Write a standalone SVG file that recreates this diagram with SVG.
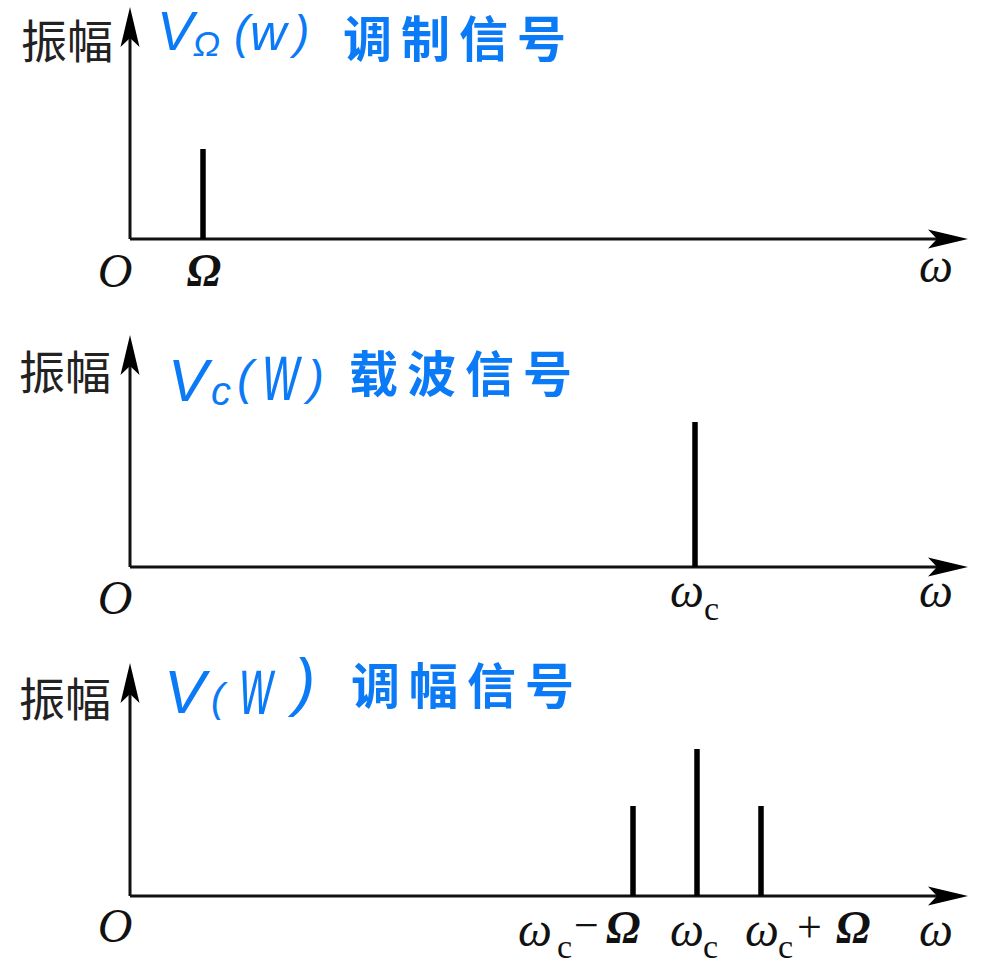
<svg xmlns="http://www.w3.org/2000/svg" width="987" height="967" viewBox="0 0 987 967">
<style>
.ax{stroke:#111;stroke-width:3;fill:none}
.sp{stroke:#000;stroke-width:5.5;fill:none}
.zf{font-family:"Noto Sans CJK SC","Noto Sans CJK JP",sans-serif;font-size:46px;fill:#222}
.bl{font-family:"Noto Sans CJK SC","Noto Sans CJK JP",sans-serif;font-weight:bold;font-size:49px;fill:#0b7af6;letter-spacing:9px}
.bv{font-family:"Liberation Sans",Arial,sans-serif;font-style:italic;fill:#0b7af6}
.gr{font-family:"Liberation Serif","Times New Roman",serif;font-style:italic;font-size:48px;fill:#111}
.om{font-family:"Liberation Serif","Times New Roman",serif;font-style:italic;font-weight:bold;font-size:46px;fill:#111}
.sb{font-family:"Liberation Serif","Times New Roman",serif;font-size:34px;fill:#111}
.op{font-family:"Liberation Serif","Times New Roman",serif;font-size:44px;fill:#111}
</style>
<defs>
<path id="ah" d="M0,0 L-40,-9.5 L-31,0 L-40,9.5 Z" fill="#000"/>
</defs>

<g id="connectors">
<path class="ax" d="M130,239 L130,20 M130,239 L950,239"/>
<use href="#ah" transform="translate(130,7) rotate(-90)"/>
<use href="#ah" transform="translate(968,239)"/>
<path class="ax" d="M130,567 L130,348 M130,567 L950,567"/>
<use href="#ah" transform="translate(130,335) rotate(-90)"/>
<use href="#ah" transform="translate(968,567)"/>
<path class="ax" d="M130,896 L130,676 M130,896 L950,896"/>
<use href="#ah" transform="translate(130,663) rotate(-90)"/>
<use href="#ah" transform="translate(968,896)"/>
</g>

<g id="panel1">
<text class="zf" x="21" y="58">振幅</text>
<text class="bv" x="157" y="50" font-size="55">V<tspan font-size="36" dy="6" dx="-1">Ω</tspan></text>
<text class="bv" x="234" y="48" font-size="46">(</text>
<text class="bv" transform="translate(250,50) scale(1.2,1.25)" font-size="42">w</text>
<text class="bv" x="294" y="48" font-size="46">)</text>
<text class="bl" x="343" y="57">调制信号</text>
<line class="sp" x1="203" y1="149" x2="203" y2="239"/>
<text class="gr" x="115" y="287" text-anchor="middle">O</text>
<text class="om" x="204" y="286" text-anchor="middle">Ω</text>
<text class="gr" x="936" y="282" text-anchor="middle">ω</text>
</g>

<g id="panel2">
<text class="zf" x="19" y="389">振幅</text>
<text class="bv" x="168" y="401" font-size="60">V</text>
<text class="bv" x="211" y="405" font-size="40">c</text>
<text class="bv" x="237" y="394" font-size="48">(</text>
<text class="bv" transform="translate(263,400) scale(1.05,1.7)" font-size="48">w</text>
<text class="bv" x="308" y="394" font-size="48">)</text>
<text class="bl" x="349" y="392">载波信号</text>
<line class="sp" x1="695" y1="422" x2="695" y2="567"/>
<text class="gr" x="115" y="614" text-anchor="middle">O</text>
<text class="gr" x="670" y="607">ω</text>
<text class="sb" x="704" y="620">c</text>
<text class="gr" x="936" y="607" text-anchor="middle">ω</text>
</g>

<g id="panel3">
<text class="zf" x="19" y="716">振幅</text>
<text class="bv" x="164" y="713" font-size="62">V</text>
<text class="bv" x="211" y="712" font-size="40">(</text>
<text class="bv" transform="translate(240,714) scale(0.95,1.7)" font-size="48">w</text>
<text class="bv" x="294" y="704" font-size="64">)</text>
<text class="bl" x="351" y="704">调幅信号</text>
<line class="sp" x1="633" y1="806" x2="633" y2="896"/>
<line class="sp" x1="697" y1="749" x2="697" y2="896"/>
<line class="sp" x1="761" y1="806" x2="761" y2="896"/>
<text class="gr" x="115" y="942" text-anchor="middle">O</text>
<text class="gr" x="518" y="946">ω</text>
<text class="sb" x="557" y="958">c</text>
<text class="op" x="574" y="940">−</text>
<text class="om" x="606" y="943">Ω</text>
<text class="gr" x="670" y="946">ω</text>
<text class="sb" x="703" y="958">c</text>
<text class="gr" x="745" y="946">ω</text>
<text class="sb" x="778" y="958">c</text>
<text class="op" x="797" y="942">+</text>
<text class="om" x="836" y="943">Ω</text>
<text class="gr" x="936" y="946" text-anchor="middle">ω</text>
</g>
</svg>
